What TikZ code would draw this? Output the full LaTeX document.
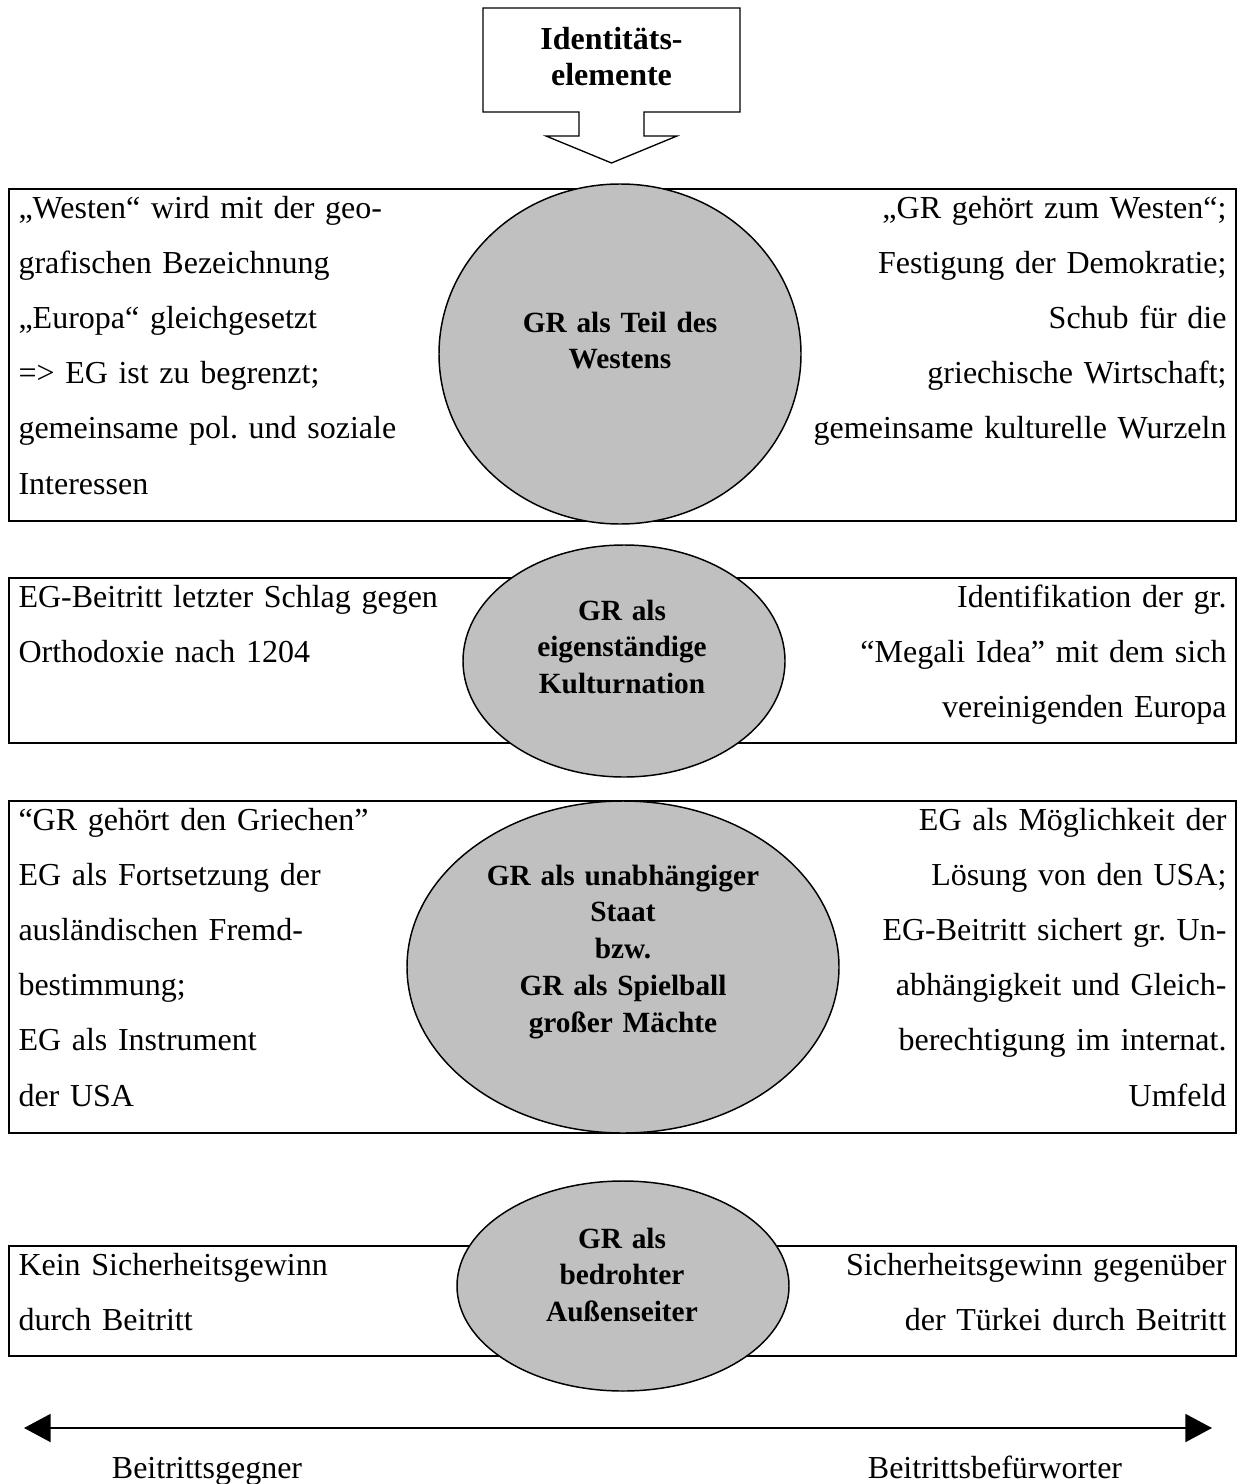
\documentclass[tikz,border=0pt]{standalone}
\usepackage{fontspec}
\setmainfont{Liberation Serif}
\usepackage{xcolor}
\usepackage{tikz}
\usetikzlibrary{arrows.meta, positioning, shapes.geometric}

\definecolor{ellgray}{HTML}{C0C0C0}
\frenchspacing

\begin{document}
\begin{tikzpicture}[x=0.375pt, y=-0.375pt, >={Triangle[length=10pt, width=10.5pt]}]
	\tikzstyle{row} = [draw=black, line width=1pt]
	\tikzstyle{blob} = [draw=black, ellipse, fill=ellgray, line width=0.55pt, inner sep=0pt]
	\tikzstyle{blobtext} = [anchor=base, align=center, text width=170pt, inner sep=0pt, font=\fontsize{11}{13.8}\selectfont\bfseries]
	\tikzstyle{lefttext} = [anchor=base west, align=left, text width=180pt, inner sep=0pt, font=\fontsize{12}{20.7}\selectfont]
	\tikzstyle{righttext} = [anchor=base east, align=right, text width=180pt, inner sep=0pt, font=\fontsize{12}{20.7}\selectfont]
	\tikzstyle{pole} = [anchor=base, inner sep=0pt, font=\fontsize{12}{14}\selectfont]
	\tikzstyle{axis} = [<->, line width=0.75pt]

	\useasboundingbox (0,0) rectangle (1240,1484);

	\draw[line width=0.5pt] (483,8) -- (740,8) -- (740,112) -- (644,112) -- (644,136) -- (677,136)
		-- (611.5,163) -- (546,136) -- (579,136) -- (579,112) -- (483,112) -- cycle;
	\node[blobtext, font=\fontsize{12}{13.2}\selectfont\bfseries] at (611.5,50) (ident) {Identitäts-\\elemente};

	\draw[row] (9,189) rectangle (1236,521);
	\draw[row] (9,578) rectangle (1236,743);
	\draw[row] (9,801) rectangle (1236,1133);
	\draw[row] (9,1246) rectangle (1236,1356);

	\node[blob, minimum width=135.75pt, minimum height=127.5pt]	at (620,354)	(teil) 	{};
	\node[blob, minimum width=120.75pt, minimum height=87pt]	at (624,661)	(kult) 	{};
	\node[blob, minimum width=162pt, minimum height=124.5pt]	at (623,967)	(staat) {};
	\node[blob, minimum width=124.5pt, minimum height=78.75pt]	at (623,1286)	(bedr) 	{};

	\node[blobtext] at (620,332)	(teiltxt)	{GR als Teil des\\Westens};
	\node[blobtext] at (622,620)	(kulttxt)	{GR als\\eigenständige\\Kulturnation};
	\node[blobtext] at (623,885)	(staattxt)	{GR als unabhängiger\\Staat\\bzw.\\GR als Spielball\\großer Mächte};
	\node[blobtext] at (622,1248)	(bedrtxt)	{GR als\\bedrohter\\Außenseiter};

	\node[lefttext] at (18,218)		(teilL)	{„Westen“ wird mit der geo-\\grafischen Bezeichnung\\„Europa“ gleichgesetzt\\=> EG ist zu begrenzt;\\gemeinsame pol. und soziale\\Interessen};
	\node[righttext] at (1227,218)	(teilR)	{„GR gehört zum Westen“;\\Festigung der Demokratie;\\Schub für die\\griechische Wirtschaft;\\gemeinsame kulturelle Wurzeln};

	\node[lefttext] at (18,607)		(kultL)	{EG-Beitritt letzter Schlag gegen\\Orthodoxie nach 1204};
	\node[righttext] at (1227,607)	(kultR)	{Identifikation der gr.\\“Megali Idea” mit dem sich\\vereinigenden Europa};

	\node[lefttext] at (18,830)		(staatL)	{“GR gehört den Griechen”\\EG als Fortsetzung der\\ausländischen Fremd-\\bestimmung;\\EG als Instrument\\der USA};
	\node[righttext] at (1227,830)	(staatR)	{EG als Möglichkeit der\\Lösung von den USA;\\EG-Beitritt sichert gr. Un-\\abhängigkeit und Gleich-\\berechtigung im internat.\\Umfeld};

	\node[lefttext] at (18,1275)	(bedrL)	{Kein Sicherheitsgewinn\\durch Beitritt};
	\node[righttext] at (1227,1275)	(bedrR)	{Sicherheitsgewinn gegenüber\\der Türkei durch Beitritt};

	\coordinate (gegnerend) at (24,1428);
	\coordinate (befend) at (1212,1428);
	\draw[axis] (gegnerend) -- (befend);

	\node[pole] at (207,1478)	(gegner)	{Beitrittsgegner};
	\node[pole] at (995,1478)	(befuerw)	{Beitrittsbefürworter};
\end{tikzpicture}
\end{document}
